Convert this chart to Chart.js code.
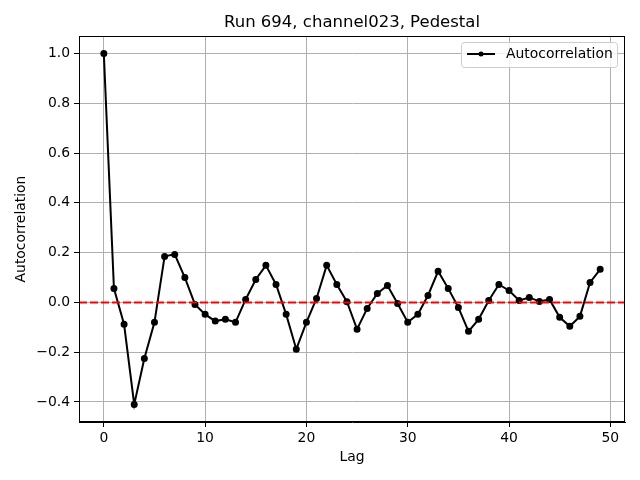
<!DOCTYPE html>
<html lang="en">
<head>
<meta charset="UTF-8">
<title>Run 694, channel023, Pedestal</title>
<script src="https://cdn.jsdelivr.net/npm/chart.js@4.4.1/dist/chart.umd.min.js"></script>
<style>
    html, body { margin: 0; padding: 0; background: #fff; }
    #wrap { width: 640px; height: 480px; }
</style>
</head>
<body>
<div id="wrap"><canvas id="acfChart" width="640" height="480"></canvas></div>
<script>
    // Autocorrelation by lag
    const lags = [];
    for (let i = 0; i < 50; i++) lags.push(i);
    const acfValues = [
        1.0, 0.056, -0.088, -0.41, -0.225, -0.08, 0.185, 0.193, 0.10, -0.008,
        -0.048, -0.075, -0.068, -0.08, 0.012, 0.092, 0.149, 0.072, -0.048, -0.188,
        -0.08, 0.016, 0.149, 0.072, 0.003, -0.108, -0.024, 0.036, 0.068, -0.004,
        -0.08, -0.048, 0.028, 0.125, 0.056, -0.02, -0.116, -0.068, 0.008, 0.072,
        0.048, 0.008, 0.02, 0.004, 0.012, -0.06, -0.096, -0.056, 0.08, 0.133
    ];
    const xTicks = [0, 10, 20, 30, 40, 50];
    const yTicks = [-0.4, -0.2, 0.0, 0.2, 0.4, 0.6, 0.8, 1.0];
    const xRange = [-2.45, 51.45];
    const yRange = [-0.4805, 1.0705];

    const FONT = "'DejaVu Sans', sans-serif";

    const framePlugin = {
        id: 'frame',
        afterDraw(chart) {
            const ctx = chart.ctx;
            const a = chart.chartArea;
            ctx.save();
            // spines
            ctx.strokeStyle = '#000';
            ctx.lineWidth = 1;
            ctx.strokeRect(a.left + 0.5, a.top + 0.5, a.right - a.left - 1, a.bottom - a.top - 1);
            // title
            ctx.fillStyle = '#000';
            ctx.font = '16.5px ' + FONT;
            ctx.textAlign = 'center';
            ctx.textBaseline = 'alphabetic';
            ctx.fillText('Run 694, channel023, Pedestal', (a.left + a.right) / 2, 27);
            // legend
            const bx = 461, by = 42, bw = 156, bh = 25;
            ctx.fillStyle = 'rgba(255,255,255,0.8)';
            ctx.strokeStyle = '#cccccc';
            ctx.beginPath();
            ctx.roundRect(bx + 0.5, by + 0.5, bw, bh, 3);
            ctx.fill();
            ctx.stroke();
            ctx.strokeStyle = '#000';
            ctx.lineWidth = 2;
            ctx.beginPath();
            ctx.moveTo(467, 54);
            ctx.lineTo(495, 54);
            ctx.stroke();
            ctx.fillStyle = '#000';
            ctx.beginPath();
            ctx.arc(481, 54, 2.5, 0, Math.PI * 2);
            ctx.fill();
            ctx.font = '13.9px ' + FONT;
            ctx.textAlign = 'left';
            ctx.textBaseline = 'middle';
            ctx.fillText('Autocorrelation', 506, 54);
            ctx.restore();
        }
    };

    new Chart(document.getElementById('acfChart'), {
        type: 'line',
        data: {
            datasets: [
                {
                    label: 'Autocorrelation',
                    data: lags.map((l, i) => ({ x: l, y: acfValues[i] })),
                    borderColor: '#000',
                    backgroundColor: '#000',
                    borderWidth: 2,
                    pointRadius: 2.5,
                    pointHoverRadius: 2.5,
                    tension: 0,
                    order: 2
                },
                {
                    label: 'zero',
                    data: [{ x: xRange[0], y: 0 }, { x: xRange[1], y: 0 }],
                    borderColor: '#ff0000',
                    borderWidth: 2,
                    borderDash: [8, 3],
                    pointRadius: 0,
                    order: 1
                }
            ]
        },
        options: {
            responsive: false,
            animation: false,
            events: [],
            layout: { padding: { top: 36, right: 15, left: 0, bottom: 0 } },
            plugins: {
                legend: { display: false },
                title: { display: false },
                tooltip: { enabled: false }
            },
            scales: {
                x: {
                    type: 'linear',
                    min: xRange[0],
                    max: xRange[1],
                    afterBuildTicks: s => { s.ticks = xTicks.map(v => ({ value: v })); },
                    afterFit: s => { s.height = 58; },
                    grid: { color: '#b0b0b0', tickColor: '#000', tickLength: 5 },
                    border: { color: '#000' },
                    ticks: {
                        color: '#000',
                        font: { family: FONT, size: 13.9 },
                        padding: 3,
                        maxRotation: 0
                    },
                    title: {
                        display: true,
                        text: 'Lag',
                        color: '#000',
                        font: { family: FONT, size: 13.9 },
                        padding: { top: 0, bottom: 14 }
                    }
                },
                y: {
                    min: yRange[0],
                    max: yRange[1],
                    afterBuildTicks: s => { s.ticks = yTicks.map(v => ({ value: v })); },
                    afterFit: s => { s.width = 79; },
                    grid: { color: '#b0b0b0', tickColor: '#000', tickLength: 5 },
                    border: { color: '#000' },
                    ticks: {
                        color: '#000',
                        font: { family: FONT, size: 13.9 },
                        padding: 4,
                        callback: v => v.toFixed(1).replace('-', '\u2212')
                    },
                    title: {
                        display: true,
                        text: 'Autocorrelation',
                        color: '#000',
                        font: { family: FONT, size: 13.9 },
                        padding: { top: 13, bottom: 0 }
                    }
                }
            }
        },
        plugins: [framePlugin]
    });
</script>
</body>
</html>
